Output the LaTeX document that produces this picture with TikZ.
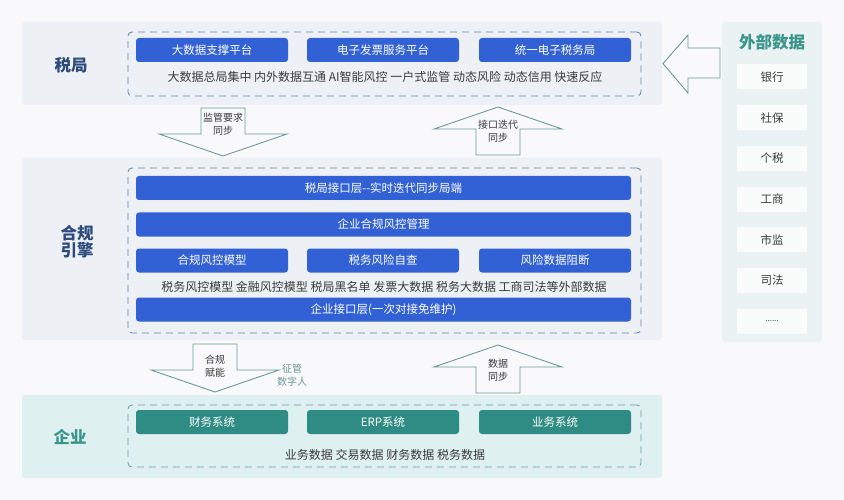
\documentclass[tikz,border=0pt]{standalone}
\usepackage{fontspec}
\setmainfont{Noto Sans CJK SC}
\usepackage{xcolor}
\usetikzlibrary{positioning,calc}
\definecolor{hgfond}{HTML}{F9F9FB}
\definecolor{hgpale}{HTML}{EDF1F6}
\definecolor{hgvertpale}{HTML}{DFF0F0}
\definecolor{hgextpale}{HTML}{EAF2F4}
\definecolor{hgbleu}{HTML}{3261D6}
\definecolor{hgvert}{HTML}{2F8C84}
\definecolor{hgmarine}{HTML}{2E4A7C}
\definecolor{hgsarcelle}{HTML}{3A958B}
\definecolor{hgtrait}{HTML}{66809E}
\definecolor{hgfleche}{HTML}{6A9A97}
\definecolor{hgtexte}{HTML}{3A3A3A}
\newcommand{\hgpoints}{{\fontsize{8}{9}\selectfont ......}}

\begin{document}
\begin{tikzpicture}[x=1pt,y=-1pt,font=\fontsize{11.5}{13}\selectfont,
  bande/.style={fill=#1,rounded corners=3pt,inner sep=0pt,minimum width=640},
  cadre/.style={draw=#1,dash pattern=on 7pt off 5pt,line width=0.8pt,rounded corners=4pt,minimum width=513,inner sep=0pt},
  boite/.style={fill=#1,text=white,rounded corners=3pt,minimum height=24,inner sep=0pt},
  titre/.style={font=\fontsize{16.5}{19}\selectfont\bfseries,align=center},
  legende/.style={text=hgtexte,font=\fontsize{12}{14}\selectfont},
  fleche/.style={draw=hgfleche,line width=0.9pt,fill=hgfond},
  etiq/.style={text=hgtexte,font=\fontsize{10}{12.5}\selectfont,align=center}]
  \useasboundingbox[fill=hgfond] (0,0) rectangle (844,500);
  % bandes
  \node[bande=hgpale,minimum height=83] (shuiju) at (342,63.5) {};
  \node[bande=hgpale,minimum height=182] (yinqing) at (342,249) {};
  \node[bande=hgvertpale,minimum height=83] (qiye) at (342,436.5) {};
  \node[bande=hgextpale,minimum width=100,minimum height=320] (waibu) at (772,182) {};
  \node[titre,text=hgmarine] (tshuiju) at (71,65) {税局};
  \node[titre,text=hgmarine] (tyinqing) at (77,242) {合规\\[-2pt]引擎};
  \node[titre,text=hgsarcelle] (tqiye) at (70,437) {企业};
  \node[titre,text=hgsarcelle] (twaibu) at (772,42) {外部数据};
  % cadres pointilles
  \node[cadre=hgtrait,minimum height=64] (cshuiju) at (384.5,64) {};
  \node[cadre=hgtrait,minimum height=165] (cyinqing) at (384.5,250.5) {};
  \node[cadre=hgfleche,minimum height=62] (cqiye) at (384.5,436) {};
  % boites : x / texte
  \foreach \x/\t [count=\i] in {212/大数据支撑平台, 383/电子发票服务平台, 555/统一电子税务局} {
    \node[boite=hgbleu,minimum width=152] (s\i) at (\x,50) {\t};}
  \foreach \x/\t [count=\i] in {212/合规风控模型, 383/税务风险自查, 555/风险数据阻断} {
    \node[boite=hgbleu,minimum width=152] (m\i) at (\x,260.5) {\t};}
  \foreach \x/\t [count=\i] in {212/财务系统, 383/ERP系统, 555/业务系统} {
    \node[boite=hgvert,minimum width=152] (q\i) at (\x,422) {\t};}
  \foreach \y/\t [count=\i] in {188/税局接口层{-}{-}实时迭代同步局端, 224.5/企业合规风控管理, 309.5/企业接口层(一次对接免维护)} {
    \node[boite=hgbleu,minimum width=495] (b\i) at (383.5,\y) {\t};}
  \node[legende] (lshuiju) at (385,77) {大数据总局集中 内外数据互通 AI智能风控 一户式监管 动态风险 动态信用 快速反应};
  \node[legende] (lyinqing) at (384,287) {税务风控模型 金融风控模型 税局黑名单 发票大数据 税务大数据 工商司法等外部数据};
  \node[legende] (lqiye) at (385,455) {业务数据 交易数据 财务数据 税务数据};
  %外部数据
  \foreach \t [count=\i] in {银行,社保,个税,工商,市监,司法,\hgpoints} {
    \node[fill=white,opacity=0.8,text opacity=1,text=hgtexte,minimum width=70,minimum height=25,inner sep=0pt] (e\i) at (772,{77+40.7*(\i-1)}) {\t};}
  % fleches creuses : x / y / sens
  \foreach \x/\y/\s in {223/108/1, 498/155/-1, 215/344/1, 498/393/-1} {
    \draw[fleche] (\x-22,\y) -- (\x-22,\y+\s*26) -- (\x-64,\y+\s*26) -- (\x,\y+\s*48)
      -- (\x+64,\y+\s*26) -- (\x+22,\y+\s*26) -- (\x+22,\y) -- cycle;}
  \draw[fleche] (720,48) -- (688,48) -- (688,35) -- (663,63.5) -- (688,93) -- (688,78) -- (720,78) -- cycle;
  \node[etiq] (f1) at (223,124) {监管要求\\同步};
  \node[etiq] (f2) at (498,131) {接口迭代\\同步};
  \node[etiq] (f3) at (215,366) {合规\\赋能};
  \node[etiq] (f4) at (498,370) {数据\\同步};
  \node[etiq,text=hgfleche] (f5) at (292,375) {征管\\数字人};
\end{tikzpicture}
\end{document}
